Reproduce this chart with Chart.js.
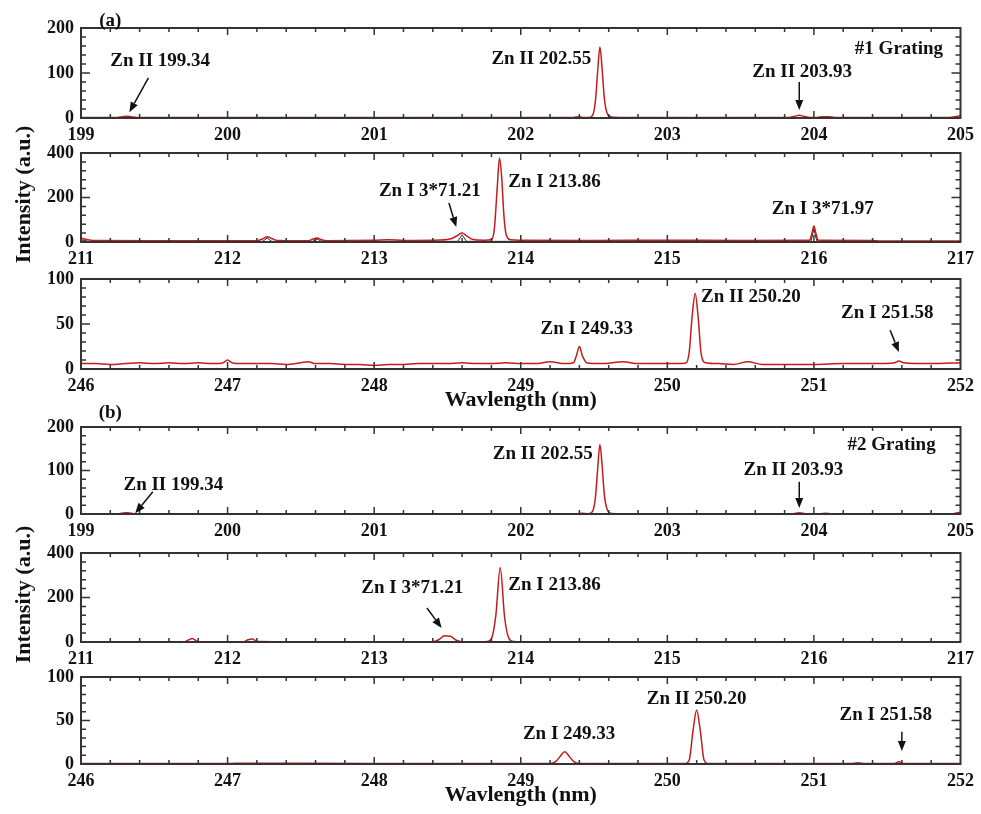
<!DOCTYPE html>
<html>
<head>
<meta charset="utf-8">
<script src="https://cdn.jsdelivr.net/npm/chart.js@4"></script>
<style>
  body { margin: 0; background: #fff; }
  #wrap { position: relative; width: 981px; height: 814px; }
  #wrap canvas { position: absolute; left: 0; top: 0; }
</style>
</head>
<body>
<div id="wrap">
  <canvas id="p1" width="981" height="814"></canvas>
  <canvas id="p2" width="981" height="814"></canvas>
  <canvas id="p3" width="981" height="814"></canvas>
  <canvas id="p4" width="981" height="814"></canvas>
  <canvas id="p5" width="981" height="814"></canvas>
  <canvas id="p6" width="981" height="814"></canvas>
</div>
<script>
// (a) #1 grating, 199-205 nm
const wl1 = [199.0, 199.2, 199.25, 199.28, 199.31, 199.34, 199.38, 199.5, 200.0, 200.5, 201.0, 201.5, 202.0, 202.36, 202.4, 202.43, 202.46, 202.49, 202.51, 202.525, 202.54, 202.555, 202.57, 202.59, 202.62, 202.7, 203.0, 203.5, 203.83, 203.87, 203.9, 203.93, 203.97, 204.02, 204.06, 204.1, 204.14, 204.5, 204.92, 204.96, 205.0];
const int1 = [1, 1, 1, 3, 4, 3, 1, 1, 1, 1, 1, 1, 1, 1, 3, 1, 1, 6, 40, 105, 158, 110, 45, 10, 2, 1, 1, 1, 1, 4, 6, 4, 1, 1, 3, 3, 1, 1, 1, 3, 5];

// (a) 211-217 nm
const wl2 = [211.0, 211.03, 211.08, 211.5, 212.0, 212.2, 212.24, 212.27, 212.3, 212.34, 212.55, 212.58, 212.61, 212.64, 212.68, 213.0, 213.1, 213.2, 213.45, 213.53, 213.57, 213.6, 213.63, 213.67, 213.75, 213.8, 213.82, 213.84, 213.855, 213.87, 213.885, 213.9, 213.93, 214.0, 214.5, 215.0, 215.5, 215.97, 215.985, 216.0, 216.015, 216.03, 216.4, 216.45, 217.0];
const int2 = [18, 12, 7, 6, 6, 6, 14, 24, 16, 7, 6, 12, 18, 10, 6, 8, 10, 7, 9, 16, 30, 40, 28, 12, 8, 10, 60, 250, 378, 290, 120, 35, 10, 8, 7, 8, 7, 8, 35, 72, 35, 8, 7, 5, 4];
const raw2x = [211.0, 211.05, 211.5, 212.0, 212.24, 212.27, 212.3, 212.58, 212.61, 212.64, 213.0, 213.57, 213.6, 213.63, 214.0, 214.5, 215.0, 215.5, 215.98, 216.0, 216.02, 216.4];
const raw2y = [10, 3, 3, 3, 3, 18, 3, 3, 14, 3, 3, 3, 32, 3, 3, 4, 3, 4, 3, 60, 3, 3];

// (a) 246-252 nm
const wl3 = [246.0, 246.1, 246.2, 246.3, 246.4, 246.5, 246.6, 246.7, 246.8, 246.9, 246.97, 247.0, 247.03, 247.1, 247.2, 247.3, 247.4, 247.5, 247.55, 247.6, 247.7, 247.8, 247.9, 248.0, 248.1, 248.2, 248.3, 248.4, 248.5, 248.6, 248.7, 248.8, 248.9, 249.0, 249.1, 249.2, 249.3, 249.36, 249.38, 249.4, 249.42, 249.45, 249.55, 249.7, 249.8, 249.9, 250.0, 250.1, 250.13, 250.15, 250.17, 250.19, 250.21, 250.23, 250.26, 250.35, 250.45, 250.55, 250.65, 250.8, 251.0, 251.2, 251.4, 251.55, 251.58, 251.61, 251.8, 252.0];
const int3 = [6, 6, 5, 6, 7, 6, 7, 6, 7, 6, 7, 10, 7, 6, 6, 6, 5, 7, 8, 6, 6, 5, 5, 4, 5, 5, 6, 6, 6, 7, 6, 6, 7, 6, 6, 8, 6, 7, 15, 25, 15, 7, 6, 8, 6, 6, 6, 6, 7, 20, 60, 84, 58, 18, 7, 6, 5, 8, 5, 5, 5, 6, 6, 7, 9, 7, 6, 7];

// (b) #2 grating, 199-205 nm
const wl4 = [199.0, 199.25, 199.28, 199.31, 199.34, 199.37, 199.5, 200.0, 201.0, 202.0, 202.38, 202.42, 202.46, 202.49, 202.51, 202.525, 202.54, 202.555, 202.57, 202.59, 202.62, 202.7, 203.5, 203.85, 203.9, 203.95, 204.04, 204.08, 204.12, 204.5, 204.94, 204.98, 205.0];
const int4 = [0.5, 0.5, 2, 3, 2, 0.5, 0.5, 0.5, 0.5, 0.5, 0.5, 2, 0.5, 6, 40, 105, 160, 112, 45, 10, 1, 0.5, 0.5, 0.5, 3, 0.5, 0.5, 2, 0.5, 0.5, 0.5, 3, 4];

// (b) 211-217 nm
const wl5 = [211.0, 211.5, 211.7, 211.73, 211.76, 211.79, 211.83, 212.0, 212.11, 212.14, 212.17, 212.2, 212.5, 213.0, 213.4, 213.44, 213.48, 213.52, 213.56, 213.6, 213.74, 213.77, 213.8, 213.83, 213.86, 213.89, 213.92, 213.95, 214.0, 215.0, 215.4, 216.0, 217.0];
const int5 = [1, 1, 1, 8, 16, 4, 1, 1, 1, 10, 14, 2, 1, 1, 1, 10, 28, 26, 8, 1, 1, 2, 15, 120, 335, 110, 15, 2, 1, 1, 1, 1, 1];

// (b) 246-252 nm
const wl6 = [246.0, 247.0, 247.1, 248.0, 249.0, 249.2, 249.24, 249.27, 249.3, 249.33, 249.36, 249.4, 250.0, 250.12, 250.15, 250.175, 250.2, 250.225, 250.25, 250.28, 250.8, 251.25, 251.3, 251.35, 251.55, 251.58, 251.61, 252.0];
const int6 = [0.5, 0.5, 1, 0.5, 0.5, 0.5, 3, 9, 14, 9, 3, 0.5, 0.5, 0.5, 5, 38, 62, 38, 5, 0.5, 0.5, 0.5, 1.5, 0.5, 0.5, 2.5, 0.5, 0.5];

const FONT = "'Liberation Serif', 'Times New Roman', serif";
const INK = '#111';

function pts(xs, ys) {
  return xs.map((x, i) => ({ x: x, y: ys[i] }));
}

function arrow(ctx, x0, y0, x1, y1) {
  const ang = Math.atan2(y1 - y0, x1 - x0);
  const hl = 10, hw = 4;
  const bx = x1 - hl * Math.cos(ang), by = y1 - hl * Math.sin(ang);
  ctx.beginPath();
  ctx.moveTo(x0, y0);
  ctx.lineTo(bx, by);
  ctx.stroke();
  ctx.beginPath();
  ctx.moveTo(x1, y1);
  ctx.lineTo(bx + hw * Math.sin(ang), by - hw * Math.cos(ang));
  ctx.lineTo(bx - hw * Math.sin(ang), by + hw * Math.cos(ang));
  ctx.closePath();
  ctx.fill();
}

// box, inward ticks, labels and arrows
const frame = {
  id: 'frame',
  afterDraw(chart, args, o) {
    const { ctx, chartArea: a, scales: { x, y } } = chart;
    ctx.save();
    ctx.strokeStyle = '#333';
    ctx.lineWidth = 1.5;
    ctx.beginPath();
    const n = Math.round((x.max - x.min) * 5);
    for (let k = 1; k < n; k++) {
      const px = x.getPixelForValue(x.min + k * 0.2);
      const len = k % 5 === 0 ? 7 : 4;
      ctx.moveTo(px, a.top); ctx.lineTo(px, a.top + len);
      ctx.moveTo(px, a.bottom); ctx.lineTo(px, a.bottom - len);
    }
    for (let k = 1; k < 10; k++) {
      const py = y.getPixelForValue(k * y.max / 10);
      const len = k % 5 === 0 ? 9 : 5;
      ctx.moveTo(a.left, py); ctx.lineTo(a.left + len, py);
      ctx.moveTo(a.right, py); ctx.lineTo(a.right - len, py);
    }
    ctx.stroke();
    ctx.lineWidth = 2;
    ctx.strokeRect(a.left, a.top, a.right - a.left, a.bottom - a.top);

    ctx.fillStyle = INK;
    ctx.font = 'bold 19px ' + FONT;
    ctx.textAlign = 'center';
    ctx.textBaseline = 'middle';
    (o.notes || []).forEach(n => {
      ctx.fillText(n.t, x.getPixelForValue(n.x), y.getPixelForValue(n.y));
    });
    ctx.strokeStyle = INK;
    ctx.lineWidth = 1.5;
    (o.arrows || []).forEach(r => {
      arrow(ctx, x.getPixelForValue(r[0]), y.getPixelForValue(r[1]),
        x.getPixelForValue(r[2]), y.getPixelForValue(r[3]));
    });
    ctx.font = 'bold 22px ' + FONT;
    if (o.xTitle) {
      ctx.fillText('Wavlength (nm)', (a.left + a.right) / 2, a.bottom + 31);
    }
    if (o.yTitle) {
      ctx.translate(24, (a.top + a.bottom) / 2 - 3);
      ctx.rotate(-Math.PI / 2);
      ctx.fillText('Intensity (a.u.)', 0, 0);
    }
    ctx.restore();
  }
};

function panel(id, p) {
  return new Chart(document.getElementById(id), {
    type: 'line',
    data: {
      datasets: [
        { data: pts(p.wl, p.val), borderColor: '#c41c1c', borderWidth: 1.5, pointRadius: 0,
          cubicInterpolationMode: 'monotone', order: 0 },
        { data: pts(p.rawX, p.rawY), borderColor: '#2a2a2a', borderWidth: 1, pointRadius: 0, order: 1 }
      ]
    },
    options: {
      responsive: false,
      animation: false,
      layout: { padding: { top: p.top, right: 17, left: 0, bottom: 814 - p.bottom - 40 } },
      plugins: {
        legend: { display: false },
        tooltip: { enabled: false },
        frame: { notes: p.notes, arrows: p.arrows, xTitle: p.xTitle, yTitle: p.yTitle }
      },
      scales: {
        x: {
          type: 'linear', min: p.xmin, max: p.xmin + 6,
          afterFit(s) { s.height = 40; },
          grid: { display: false, drawTicks: false },
          border: { display: false },
          ticks: { stepSize: 1, padding: 7, maxRotation: 0, color: INK,
            font: { family: FONT, weight: 'bold', size: 18 } }
        },
        y: {
          min: 0, max: p.ymax,
          afterFit(s) { s.width = 81; },
          grid: { display: false, drawTicks: false },
          border: { display: false },
          ticks: { stepSize: p.ymax / 2, padding: 7, color: INK,
            font: { family: FONT, weight: 'bold', size: 18 } }
        }
      }
    },
    plugins: [frame]
  });
}

panel('p1', {
  wl: wl1, val: int1, rawX: [199, 205], rawY: [0, 0],
  xmin: 199, ymax: 200, top: 28, bottom: 118,
  notes: [
    { t: '(a)', x: 199.2, y: 216 },
    { t: 'Zn II 199.34', x: 199.54, y: 127 },
    { t: 'Zn II 202.55', x: 202.14, y: 131 },
    { t: 'Zn II 203.93', x: 203.92, y: 102 },
    { t: '#1 Grating', x: 204.58, y: 153 }
  ],
  arrows: [[199.46, 89, 199.33, 13], [203.9, 80, 203.9, 18]]
});

panel('p2', {
  wl: wl2, val: int2, rawX: raw2x, rawY: raw2y,
  xmin: 211, ymax: 400, top: 153, bottom: 242, yTitle: true,
  notes: [
    { t: 'Zn I 3*71.21', x: 213.38, y: 229 },
    { t: 'Zn I 213.86', x: 214.23, y: 270 },
    { t: 'Zn I 3*71.97', x: 216.06, y: 148 }
  ],
  arrows: [[213.51, 175, 213.56, 67]]
});

panel('p3', {
  wl: wl3, val: int3, rawX: [], rawY: [],
  xmin: 246, ymax: 100, top: 279, bottom: 369, xTitle: true,
  notes: [
    { t: 'Zn I 249.33', x: 249.45, y: 44 },
    { t: 'Zn II 250.20', x: 250.57, y: 80 },
    { t: 'Zn I 251.58', x: 251.5, y: 62 }
  ],
  arrows: [[251.52, 43, 251.58, 19]]
});

panel('p4', {
  wl: wl4, val: int4, rawX: [199, 205], rawY: [0, 0],
  xmin: 199, ymax: 200, top: 427, bottom: 514,
  notes: [
    { t: '(b)', x: 199.2, y: 232 },
    { t: 'Zn II 199.34', x: 199.63, y: 67 },
    { t: 'Zn II 202.55', x: 202.15, y: 138 },
    { t: 'Zn II 203.93', x: 203.86, y: 101 },
    { t: '#2 Grating', x: 204.53, y: 159 }
  ],
  arrows: [[199.49, 51, 199.37, 2], [203.9, 74, 203.9, 14]]
});

panel('p5', {
  wl: wl5, val: int5, rawX: [211, 217], rawY: [0, 0],
  xmin: 211, ymax: 400, top: 553, bottom: 642, yTitle: true,
  notes: [
    { t: 'Zn I 3*71.21', x: 213.26, y: 243 },
    { t: 'Zn I 213.86', x: 214.23, y: 256 }
  ],
  arrows: [[213.36, 153, 213.46, 63]]
});

panel('p6', {
  wl: wl6, val: int6, rawX: [246, 252], rawY: [0, 0],
  xmin: 246, ymax: 100, top: 677, bottom: 764, xTitle: true,
  notes: [
    { t: 'Zn I 249.33', x: 249.33, y: 34 },
    { t: 'Zn II 250.20', x: 250.2, y: 75 },
    { t: 'Zn I 251.58', x: 251.49, y: 56 }
  ],
  arrows: [[251.6, 37, 251.6, 15]]
});
</script>
</body>
</html>
